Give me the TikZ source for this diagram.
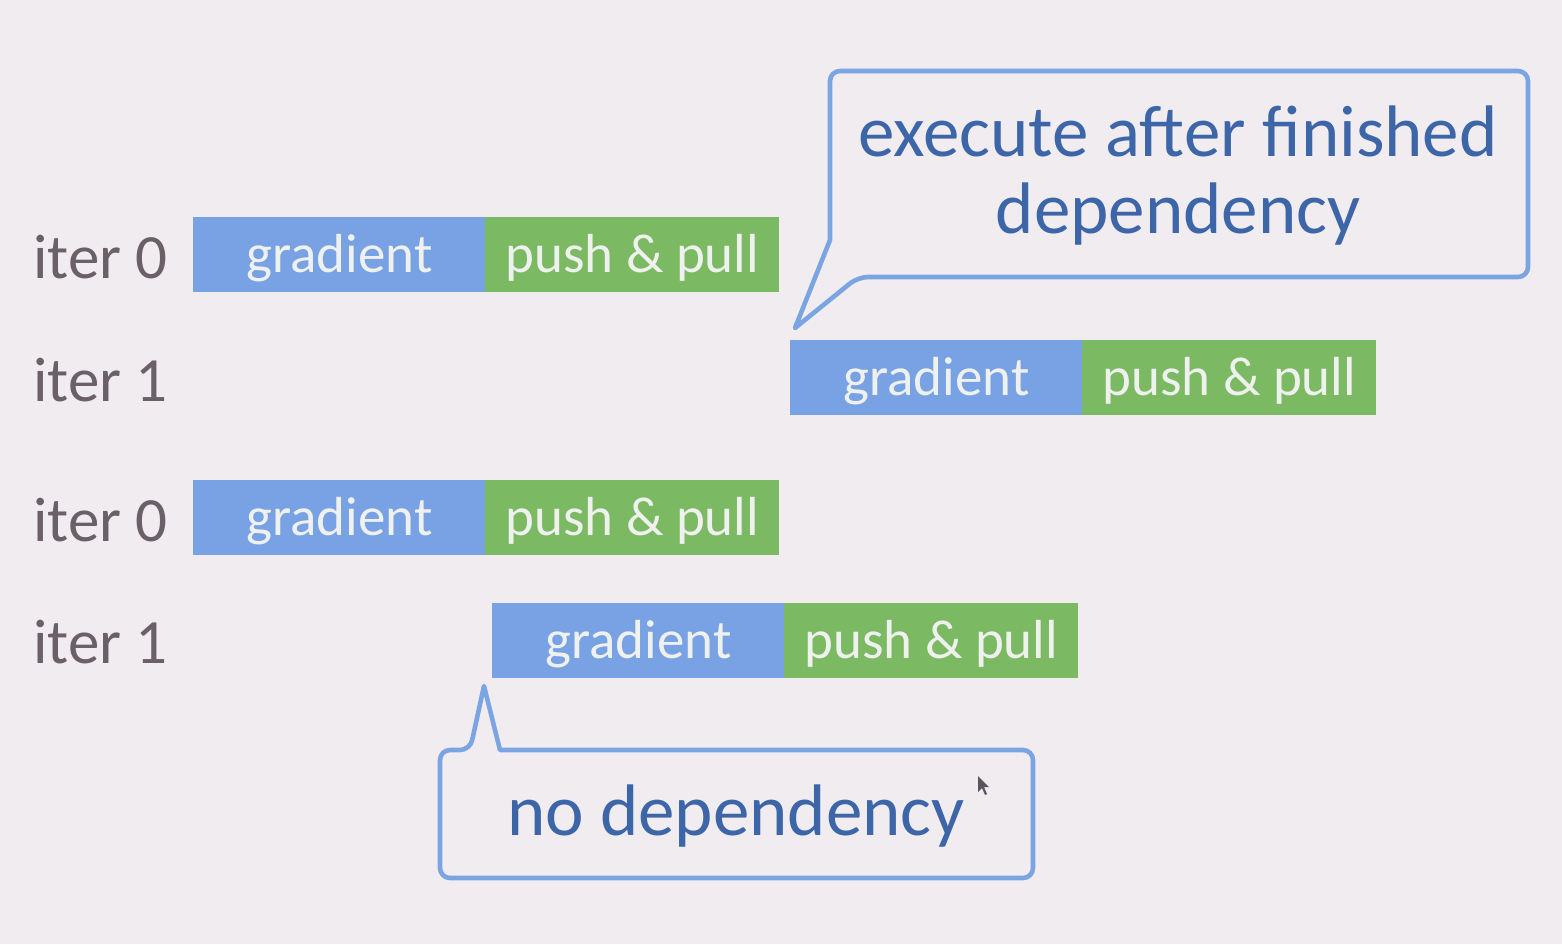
\documentclass[tikz,border=0pt]{standalone}
\usepackage{fontspec}
\setmainfont{Carlito}
\definecolor{bgc}{HTML}{F1ECF0}
\definecolor{gradc}{HTML}{78A2E3}
\definecolor{pushc}{HTML}{7BB963}
\definecolor{barfont}{HTML}{EEF1EE}
\definecolor{labc}{HTML}{6A6068}
\definecolor{callc}{HTML}{7BA5E2}
\definecolor{calltxt}{HTML}{3D66A8}
\definecolor{cursc}{HTML}{5A5560}
\begin{document}
\begin{tikzpicture}[x=0.5pt,y=-0.5pt,
  bar/.style={anchor=north west, inner sep=0pt, minimum height=37.5pt,
    text=barfont, font=\fontsize{27.5}{30}\selectfont,
    text height=17.5pt, text depth=0pt},
  gradbar/.style={bar, fill=gradc, minimum width=146pt},
  pushbar/.style={bar, fill=pushc, minimum width=147pt},
  iterlab/.style={anchor=base west, inner sep=0pt, text=labc,
    font=\fontsize{31.5}{34}\selectfont},
  callout/.style={draw=callc, line width=2.3pt, line join=round},
  calltext/.style={text=calltxt, font=\fontsize{36.5}{38.5}\selectfont,
    align=center, inner sep=0pt}]
\useasboundingbox (0,0) rectangle (1562,944);
\fill[bgc] (0,0) rectangle (1562,944);

% labels
\node[iterlab] (l1) at (33,278) {iter 0};
\node[iterlab] (l2) at (33,401) {iter 1};
\node[iterlab] (l3) at (33,541) {iter 0};
\node[iterlab] (l4) at (33,663) {iter 1};

% bars
\node[gradbar] (g1) at (193,217) {gradient};
\node[pushbar] (p1) at (485,217) {push \& pull};
\node[gradbar] (g2) at (790,340) {gradient};
\node[pushbar] (p2) at (1082,340) {push \& pull};
\node[gradbar] (g3) at (193,480) {gradient};
\node[pushbar] (p3) at (485,480) {push \& pull};
\node[gradbar] (g4) at (492,603) {gradient};
\node[pushbar] (p4) at (784,603) {push \& pull};

% callout 1
\draw[callout] (830,240) [rounded corners=5pt] -- (830,71) -- (1528,71)
  -- (1528,277) -- (858,277) [sharp corners] -- (795,328) -- cycle;
\node[calltext] (c1) at (1178,176) {execute after finished\\dependency};

% callout 2
\draw[callout] (484,686) -- (500,750) [rounded corners=5pt] -- (1033,750)
  -- (1033,878) -- (440,878) -- (440,750) -- (470,750) [sharp corners] -- cycle;
\node[calltext, anchor=base] (c2) at (736,835) {no dependency};

% mouse cursor
\fill[cursc] (978,776) -- (978,792) -- (982,788) -- (985,795) -- (987,794)
  -- (984,787) -- (989,787) -- cycle;
\end{tikzpicture}
\end{document}
